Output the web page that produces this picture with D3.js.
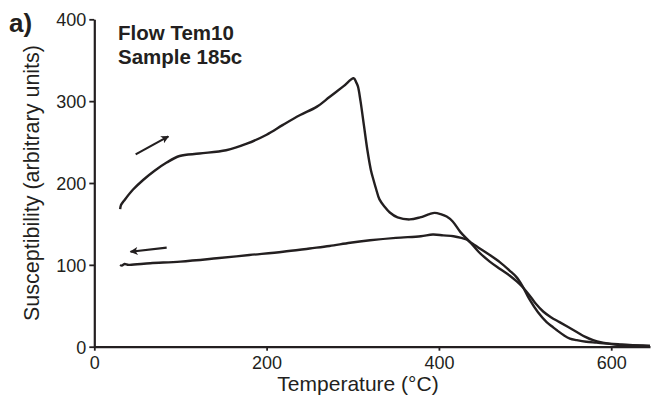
<!DOCTYPE html>
<html><head><meta charset="utf-8">
<script src="https://cdn.jsdelivr.net/npm/d3@7"></script>
<style>
html,body{margin:0;padding:0;background:#fff;}
svg{display:block;font-family:"Liberation Sans",Arial,sans-serif;}
</style></head>
<body>
<svg id="chart" width="651" height="407"></svg>
<script>
const xTicks = [0, 200, 400, 600];
const yTicks = [0, 100, 200, 300, 400];

const heatingT = [30,31,35,45,57,70,84,99,122,153,177,200,219,239,258,273,289,301,304,306,309,313,317,321,324,327,331,337,343,352,366,378,389,395,402,409,416,425,436,446,459,471,482,490,497,505,512,521,530,540,550,560,570,579,590,598,610,621,635,645];
const heatingV = [168,173,179,192,204,215,225,233,236,240,248,259,271,283,293,305,318,328,323,318,300,270,240,216,204,193,180,171,164,158,155.5,158,162,163.5,162,159,153,140,128,116,104,95,87,80,73,63,53,43,36,30,24,18,12,8,5,3.5,2,1.5,1,0.8];

const coolingT = [30,32,35,40,65,100,142,180,219,250,273,297,320,350,379,393,405,417,426,432,436,446,459,471,482,490,497,505,515,525,531,537,545,552,560,571,583,594,608,621,645];
const coolingV = [100,99,101,100,102,104,108,112,116,120,123,127,130,133,135,137,136,135,133,131,128,121,112,103,93,85,74,58,42,30,25,20,14,10,8,6,5,4,3,2,1];

// arrows: [fromT, fromV, toT, toV]
const arrowHeat = [48, 235, 86, 257];
const arrowCool = [84, 121, 42, 116];

const ink = "#231f20";
const svg = d3.select("#chart");

const x = d3.scaleLinear().domain([0, 645]).range([94.3, 650]);
const y = d3.scaleLinear().domain([0, 400]).range([346.7, 19.3]);

svg.append("defs").append("marker")
  .attr("id","ah").attr("viewBox","0 0 10 10").attr("refX",9).attr("refY",5)
  .attr("markerWidth",10).attr("markerHeight",8).attr("markerUnits","userSpaceOnUse")
  .attr("orient","auto")
  .append("path").attr("d","M0,0 L10,5 L0,10 L2.5,5 Z").attr("fill",ink);

// axes
const xAxis = svg.append("g").attr("transform",`translate(0,${y(0)})`)
  .call(d3.axisBottom(x).tickValues(xTicks).tickSize(4).tickSizeOuter(0).tickPadding(6));
const yAxis = svg.append("g").attr("transform",`translate(${x(0)},0)`)
  .call(d3.axisLeft(y).tickValues(yTicks).tickSize(5).tickSizeOuter(0).tickPadding(3));
[xAxis,yAxis].forEach(g=>{
  g.select(".domain").attr("stroke",ink).attr("stroke-width",2.2);
  g.selectAll(".tick line").attr("stroke",ink).attr("stroke-width",1.8);
  g.selectAll(".tick text").attr("fill",ink).attr("font-size",18)
    .attr("font-family","'Liberation Sans',Arial,sans-serif");
});
yAxis.selectAll(".tick text").attr("dy","0.36em");

// curves
const line = d3.line().x(d=>x(d[0])).y(d=>y(d[1])).curve(d3.curveCatmullRom.alpha(0.5));
const heat = heatingT.map((t,i)=>[t,heatingV[i]]);
const cool = coolingT.map((t,i)=>[t,coolingV[i]]);
svg.append("path").datum(heat).attr("d",line).attr("fill","none")
  .attr("stroke",ink).attr("stroke-width",2.4).attr("stroke-linejoin","round");
svg.append("path").datum(cool).attr("d",line).attr("fill","none")
  .attr("stroke",ink).attr("stroke-width",2.4).attr("stroke-linejoin","round");

// arrows
[arrowHeat, arrowCool].forEach(a=>{
  svg.append("line").attr("x1",x(a[0])).attr("y1",y(a[1]))
    .attr("x2",x(a[2])).attr("y2",y(a[3]))
    .attr("stroke",ink).attr("stroke-width",2.2).attr("marker-end","url(#ah)");
});

// texts
svg.append("text").attr("x",9).attr("y",32).attr("font-size",26).attr("font-weight","bold")
  .attr("fill",ink).text("a)");
svg.append("text").attr("x",118).attr("y",40).attr("font-size",20.5).attr("font-weight","bold")
  .attr("fill",ink).text("Flow Tem10");
svg.append("text").attr("x",118).attr("y",64).attr("font-size",20.5).attr("font-weight","bold")
  .attr("fill",ink).text("Sample 185c");
svg.append("text").attr("x",358).attr("y",391).attr("text-anchor","middle")
  .attr("font-size",21).attr("fill",ink).text("Temperature (°C)");
svg.append("text").attr("transform","translate(38.5,183) rotate(-90)").attr("text-anchor","middle")
  .attr("font-size",21.5).attr("fill",ink).text("Susceptibility (arbitrary units)");
</script>
</body></html>
